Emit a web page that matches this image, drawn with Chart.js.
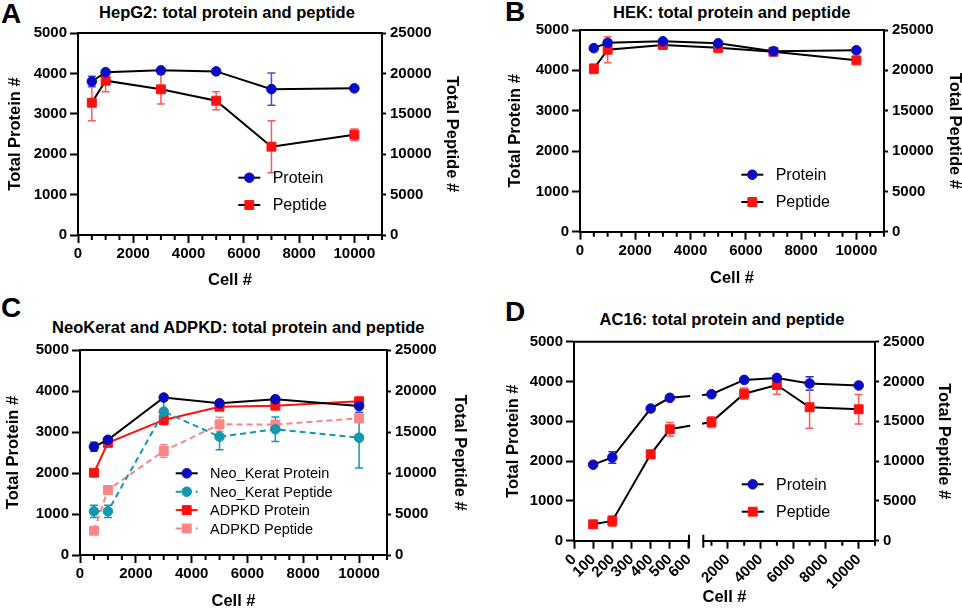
<!DOCTYPE html>
<html><head><meta charset="utf-8">
<script src="https://cdn.jsdelivr.net/npm/chart.js@4.4.1/dist/chart.umd.min.js"></script>
<style>
html,body{margin:0;padding:0;background:#fff;overflow:hidden;width:962px;height:608px;position:relative;}
.panel{position:absolute;}
.panel canvas{display:block;}
.lbl{position:absolute;font-family:'Liberation Sans',Arial,Helvetica,sans-serif;font-weight:bold;color:#000;white-space:nowrap;line-height:1;}
.letter{font-size:28px;}
.title{font-size:16.5px;transform:translate(-50%,-50%);}
</style></head><body>
<div class="lbl letter" style="left:1px;top:-0.5px">A</div>
<div class="lbl letter" style="left:505px;top:-2px">B</div>
<div class="lbl letter" style="left:1px;top:294px">C</div>
<div class="lbl letter" style="left:505px;top:298px">D</div>
<div class="lbl title" style="left:227px;top:11.5px">HepG2: total protein and peptide</div>
<div class="lbl title" style="left:731.7px;top:11.5px">HEK: total protein and peptide</div>
<div class="lbl title" style="left:238.3px;top:326.7px">NeoKerat and ADPKD: total protein and peptide</div>
<div class="lbl title" style="left:722px;top:319px">AC16: total protein and peptide</div>
<div class="panel" id="pA" style="left:0px;top:0px;width:468px;height:296px"><canvas id="cA"></canvas></div>
<div class="panel" id="pB" style="left:486px;top:0px;width:480px;height:296px"><canvas id="cB"></canvas></div>
<div class="panel" id="pC" style="left:0px;top:300px;width:476px;height:316px"><canvas id="cC"></canvas></div>
<div class="panel" id="pD" style="left:486px;top:300px;width:476px;height:316px"><canvas id="cD"></canvas></div>
<script>
// ---------------- DATA ----------------
const cellCounts = [500, 1000, 3000, 5000, 7000, 10000];

const hepg2Protein    = [3800, 4030, 4075, 4050, 3610, 3630];
const hepg2ProteinErr = [130, 30, 30, 30, 400, 30];
const hepg2Peptide    = [16370, 19100, 18030, 16620, 10930, 12410];
const hepg2PeptideErr = [2230, 1360, 1830, 1110, 3220, 700];

const hekProtein    = [4550, 4685, 4720, 4670, 4475, 4497];
const hekProteinErr = [40, 40, 40, 40, 40, 40];
const hekPeptide    = [20200, 22550, 23150, 22800, 22300, 21240];
const hekPeptideErr = [600, 1600, 300, 600, 400, 300];

const neoProtein    = [2640, 2810, 3840, 3700, 3800, 3634];
const neoProteinErr = [110, 60, 50, 50, 50, 150];
const neoPeptide    = [5330, 5330, 17480, 14430, 15330, 14300];
const neoPeptideErr = [750, 750, 1600, 1600, 1500, 3700];
const adpkdProtein    = [2007, 2735, 3295, 3617, 3642, 3748];
const adpkdProteinErr = [40, 40, 80, 40, 60, 100];
const adpkdPeptide    = [2960, 7930, 12680, 15940, 15900, 16670];
const adpkdPeptideErr = [0, 0, 750, 850, 500, 500];

const ac16Cells      = [100, 200, 400, 500, 1000, 3000, 5000, 7000, 10000];
const ac16Protein    = [1910, 2090, 3320, 3590, 3680, 4040, 4090, 3950, 3900];
const ac16ProteinErr = [30, 143, 40, 40, 40, 40, 40, 170, 40];
const ac16Peptide    = [2060, 2480, 10850, 14000, 14900, 18470, 19560, 16760, 16510];
const ac16PeptideErr = [300, 670, 500, 840, 670, 710, 1170, 2640, 1860];

// tick values
const proteinTicksMax = 5000, proteinStep = 1000;
const peptideTicksMax = 25000, peptideStep = 5000;
const cellMajorTicks = [0, 2000, 4000, 6000, 8000, 10000];
const cellMinorTicks = [500,1000,1500,2500,3000,3500,4500,5000,5500,6500,7000,7500,8500,9000,9500,10500,11000];
const ac16Ticks = [0, 100, 200, 300, 400, 500, 600, 2000, 4000, 6000, 8000, 10000];
const ac16MinorTicks = [1000, 3000, 5000, 7000, 9000, 11000];
const ac16Break = {leftMin: 0, leftMax: 600, rightMin: 500, rightMax: 11000};

// ---------------- STYLE / LAYOUT ----------------
const FONT = "'Liberation Sans', Arial, Helvetica, sans-serif";
Chart.defaults.font.family = FONT;
Chart.defaults.color = '#000';
Chart.defaults.animation = false;

const BLUE = '#0b0bc4', BLUE_ERR = '#4a4ae0';
const RED = '#ff1010', RED_ERR = '#ff5a5a';
const TEAL = '#1597ad', SALMON = '#f98686';

// Broken linear scale (for AC16 panel)
class BrokenLinearScale extends Chart.LinearScale {
  buildTicks() { return ac16Ticks.map(v => ({value: v})); }
  getPixelForValue(value) {
    if (value === null || value === undefined || isNaN(value)) return NaN;
    const b = ac16Break, f = this.options.breakFrac;
    let d;
    if (value <= b.leftMax) d = (value - b.leftMin) / (b.leftMax - b.leftMin) * f[0];
    else d = f[1] + (value - b.rightMin) / (b.rightMax - b.rightMin) * (1 - f[1]);
    return this.getPixelForDecimal(d);
  }
  getValueForPixel(pixel) {
    const b = ac16Break, f = this.options.breakFrac;
    const d = this.getDecimalForPixel(pixel);
    if (d <= f[0]) return b.leftMin + d / f[0] * (b.leftMax - b.leftMin);
    return b.rightMin + (d - f[1]) / (1 - f[1]) * (b.rightMax - b.rightMin);
  }
}
BrokenLinearScale.id = 'brokenLinear';
BrokenLinearScale.defaults = Chart.LinearScale.defaults;
Chart.register(BrokenLinearScale);

function pts(xs, ys) { return xs.map((x, i) => ({x: x, y: ys[i]})); }

function series(label, xs, ys, errs, yAxisID, o) {
  return Object.assign({
    label: label, data: pts(xs, ys), errors: errs, yAxisID: yAxisID,
    borderColor: '#000', borderWidth: 2, tension: 0,
    pointStyle: 'circle', pointRadius: 4.8, pointBorderWidth: 1,
    pointBackgroundColor: BLUE, pointBorderColor: BLUE, errorColor: BLUE_ERR
  }, o || {});
}

function drawMarker(ctx, style, x, y, r) {
  ctx.beginPath();
  if (style === 'rect') {
    const s = Math.SQRT1_2 * r;
    ctx.rect(x - s, y - s, 2 * s, 2 * s);
  } else {
    ctx.arc(x, y, r, 0, Math.PI * 2);
  }
  ctx.fill();
  ctx.lineWidth = 1;
  ctx.stroke();
}

function makeDecor(cfg) {
  return {
    id: 'decor',
    beforeDatasetsDraw(chart) {
      const ctx = chart.ctx;
      chart.data.datasets.forEach((ds, di) => {
        if (!ds.errors) return;
        const meta = chart.getDatasetMeta(di);
        const ys = chart.scales[ds.yAxisID];
        ctx.save();
        ctx.strokeStyle = ds.errorColor; ctx.lineWidth = 1.5;
        meta.data.forEach((p, i) => {
          const e = ds.errors[i];
          if (!e) return;
          const v = ds.data[i].y;
          const x = p.x, y1 = ys.getPixelForValue(v + e), y2 = ys.getPixelForValue(v - e);
          ctx.beginPath();
          ctx.moveTo(x, y1); ctx.lineTo(x, y2);
          ctx.moveTo(x - 4, y1); ctx.lineTo(x + 4, y1);
          ctx.moveTo(x - 4, y2); ctx.lineTo(x + 4, y2);
          ctx.stroke();
        });
        ctx.restore();
      });
    },
    afterDatasetsDraw(chart) {
      if (!cfg.broken) return;
      const ctx = chart.ctx, a = chart.chartArea, xs = chart.scales.x;
      const p1 = xs.getPixelForValue(ac16Break.leftMax);
      const p2 = xs.getPixelForDecimal(xs.options.breakFrac[1]);
      ctx.save();
      ctx.fillStyle = '#fff';
      ctx.fillRect(p1 + 1.2, a.top + 1.5, (p2 - 1.2) - (p1 + 1.2), a.bottom - a.top + 10);
      ctx.restore();
    },
    afterDraw(chart) {
      const ctx = chart.ctx, a = chart.chartArea, xs = chart.scales.x;
      ctx.save();
      ctx.strokeStyle = '#000'; ctx.lineWidth = 2;
      // minor ticks
      ctx.beginPath();
      cfg.minor.forEach(v => { const x = xs.getPixelForValue(v); ctx.moveTo(x, a.bottom); ctx.lineTo(x, a.bottom + 5); });
      ctx.stroke();
      // top frame
      ctx.beginPath(); ctx.moveTo(a.left - 1, a.top); ctx.lineTo(a.right + 1, a.top); ctx.stroke();
      // break marks
      if (cfg.broken) {
        const p1 = xs.getPixelForValue(ac16Break.leftMax);
        const p2 = xs.getPixelForDecimal(xs.options.breakFrac[1]);
        ctx.beginPath();
        ctx.moveTo(p1, a.bottom - 6); ctx.lineTo(p1, a.bottom + 7);
        ctx.moveTo(p2, a.bottom - 6); ctx.lineTo(p2, a.bottom + 7);
        ctx.stroke();
      }
      // legend
      const L = cfg.legend;
      chart.data.datasets.forEach((ds, i) => {
        const y = L.y + i * L.gap;
        ctx.save();
        ctx.strokeStyle = ds.borderColor; ctx.lineWidth = 2;
        ctx.setLineDash(ds.borderDash || []);
        ctx.beginPath(); ctx.moveTo(L.x - 11, y); ctx.lineTo(L.x + 11, y); ctx.stroke();
        ctx.setLineDash([]);
        ctx.fillStyle = ds.pointBackgroundColor; ctx.strokeStyle = ds.pointBorderColor;
        drawMarker(ctx, ds.pointStyle, L.x, y, ds.pointRadius);
        ctx.fillStyle = '#000';
        ctx.font = L.font + 'px ' + FONT;
        ctx.textBaseline = 'middle'; ctx.textAlign = 'left';
        ctx.fillText(ds.label, L.textX, y + 1);
        ctx.restore();
      });
      ctx.restore();
    }
  };
}

function buildChart(id, P, datasets, xCfg, cfg) {
  const box = P.box, area = P.area, T = P.titles;
  const lh = 16.5 * 1.2 / 2;
  const leftW = area.l - box.L, rightW = box.L + box.W - area.r, botH = box.T + box.H - area.b;
  const legend = {x: P.legend.x - box.L, y: P.legend.y - box.T, gap: P.legend.gap, textX: P.legend.textX - box.L, font: P.legend.font};
  const titleFont = {size: 16.5, weight: 'bold', lineHeight: 1.2};
  const tickFont = {size: 15, weight: 'bold', lineHeight: 1.2};
  const fmt = v => String(v);
  const xScale = Object.assign({
    position: 'bottom', min: 0, max: 11000,
    border: {display: true, color: '#000', width: 2},
    grid: {display: true, drawOnChartArea: false, drawTicks: true, tickLength: 8, tickWidth: 2, tickColor: '#000'},
    title: {display: true, text: 'Cell #', font: titleFont, color: '#000', padding: {top: 0, bottom: box.T + box.H - T.bottom - lh}},
    afterFit: s => { s.height = botH; }
  }, xCfg);
  new Chart(document.getElementById(id), {
    type: 'line',
    data: {datasets: datasets},
    options: {
      responsive: true, maintainAspectRatio: false, animation: false,
      layout: {padding: {top: area.t - box.T, left: 0, right: 0, bottom: 0}},
      plugins: {legend: {display: false}, tooltip: {enabled: false}, title: {display: false}},
      scales: {
        x: xScale,
        y: {
          position: 'left', min: 0, max: proteinTicksMax,
          ticks: {stepSize: proteinStep, font: tickFont, color: '#000', padding: 3, callback: fmt},
          border: {display: true, color: '#000', width: 2},
          grid: {display: true, drawOnChartArea: false, drawTicks: true, tickLength: 8, tickWidth: 2, tickColor: '#000'},
          title: {display: true, text: 'Total Protein #', font: titleFont, color: '#000', padding: {top: T.left - box.L - lh, bottom: 0}},
          afterFit: s => { s.width = leftW; }
        },
        y1: {
          position: 'right', min: 0, max: peptideTicksMax,
          ticks: {stepSize: peptideStep, font: tickFont, color: '#000', padding: 4, callback: fmt},
          border: {display: true, color: '#000', width: 2},
          grid: {display: true, drawOnChartArea: false, drawTicks: true, tickLength: 4, tickWidth: 2, tickColor: '#000'},
          title: {display: true, text: 'Total Peptide #', font: titleFont, color: '#000', padding: {top: box.L + box.W - T.right - lh, bottom: 0}},
          afterFit: s => { s.width = rightW; }
        }
      }
    },
    plugins: [makeDecor({minor: cfg.minor, broken: cfg.broken, legend: legend})]
  });
}

function stdX() {
  return {
    type: 'linear',
    afterBuildTicks: s => { s.ticks = cellMajorTicks.map(v => ({value: v})); },
    ticks: {autoSkip: false, maxRotation: 0, minRotation: 0,
            font: {size: 15, weight: 'bold'}, color: '#000', padding: 2, callback: v => String(v)}
  };
}

// Panel A
buildChart('cA', {
  box: {L: 0, T: 0, W: 468, H: 296}, area: {l: 78, r: 382, t: 33, b: 235},
  titles: {left: 15, right: 452, bottom: 280},
  legend: {x: 249.3, y: 177.7, gap: 27.3, textX: 272.7, font: 16}
}, [
  series('Protein', cellCounts, hepg2Protein, hepg2ProteinErr, 'y'),
  series('Peptide', cellCounts, hepg2Peptide, hepg2PeptideErr, 'y1',
    {pointStyle: 'rect', pointRadius: 6.3, pointBackgroundColor: RED, pointBorderColor: RED, errorColor: RED_ERR})
], stdX(), {minor: cellMinorTicks});

// Panel B
buildChart('cB', {
  box: {L: 486, T: 0, W: 480, H: 296}, area: {l: 580, r: 884, t: 30, b: 231.7},
  titles: {left: 515, right: 954.5, bottom: 278.3},
  legend: {x: 752.3, y: 174.7, gap: 27.3, textX: 775.7, font: 16}
}, [
  series('Protein', cellCounts, hekProtein, hekProteinErr, 'y'),
  series('Peptide', cellCounts, hekPeptide, hekPeptideErr, 'y1',
    {pointStyle: 'rect', pointRadius: 6.3, pointBackgroundColor: RED, pointBorderColor: RED, errorColor: RED_ERR})
], stdX(), {minor: cellMinorTicks});

// Panel C
buildChart('cC', {
  box: {L: 0, T: 300, W: 476, H: 316}, area: {l: 80, r: 387, t: 350, b: 555},
  titles: {left: 13.3, right: 459.3, bottom: 601},
  legend: {x: 186.7, y: 473.3, gap: 18.4, textX: 210, font: 14.5}
}, [
  series('Neo_Kerat Protein', cellCounts, neoProtein, neoProteinErr, 'y',
    {pointBackgroundColor: '#0a0ab8', pointBorderColor: '#0a0ab8'}),
  series('Neo_Kerat Peptide', cellCounts, neoPeptide, neoPeptideErr, 'y1',
    {borderColor: TEAL, borderDash: [6, 4], pointBackgroundColor: TEAL, pointBorderColor: TEAL, errorColor: TEAL}),
  series('ADPKD Protein', cellCounts, adpkdProtein, adpkdProteinErr, 'y',
    {borderColor: RED, pointStyle: 'rect', pointRadius: 6.3, pointBackgroundColor: RED, pointBorderColor: RED, errorColor: RED_ERR}),
  series('ADPKD Peptide', cellCounts, adpkdPeptide, adpkdPeptideErr, 'y1',
    {borderColor: SALMON, borderDash: [6, 4], pointStyle: 'rect', pointRadius: 6.3, pointBackgroundColor: SALMON, pointBorderColor: SALMON, errorColor: SALMON})
], stdX(), {minor: cellMinorTicks});

// Panel D
buildChart('cD', {
  box: {L: 486, T: 300, W: 476, H: 316}, area: {l: 574, r: 875, t: 341.7, b: 540.7},
  titles: {left: 513.3, right: 943.3, bottom: 597.7},
  legend: {x: 752.7, y: 484.3, gap: 27.4, textX: 776, font: 16}
}, [
  series('Protein', ac16Cells, ac16Protein, ac16ProteinErr, 'y', {errorColor: '#2a2ad4'}),
  series('Peptide', ac16Cells, ac16Peptide, ac16PeptideErr, 'y1',
    {pointStyle: 'rect', pointRadius: 6.3, pointBackgroundColor: RED, pointBorderColor: RED, errorColor: RED_ERR})
], {
  type: 'brokenLinear', breakFrac: [0.382, 0.4296],
  ticks: {autoSkip: false, maxRotation: 45, minRotation: 45, font: {size: 15, weight: 'bold'}, color: '#000', padding: 2, callback: v => String(v)}
}, {minor: ac16MinorTicks, broken: true});
</script>
</body></html>
